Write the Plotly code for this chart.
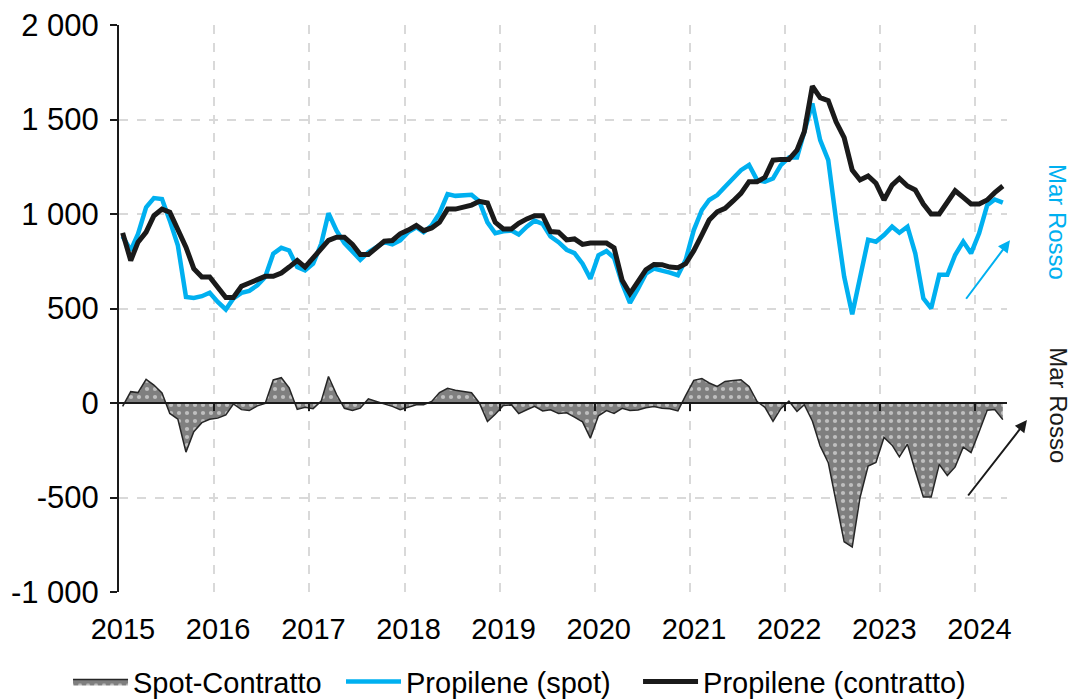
import pandas as pd
import plotly.graph_objects as go

# ---- data (monthly, Jan 2015 - Apr 2024) ----
start_month = "2015-01-01"

spot = [882, 807, 895, 1035, 1084, 1079, 965, 833, 561, 556, 565, 583,
        535, 495, 553, 583, 593, 623, 667, 790, 821, 807, 719, 702,
        737, 842, 1004, 912, 846, 798, 758, 798, 828, 851, 839, 860,
        904, 930, 904, 939, 1004, 1105, 1096, 1098, 1102, 1067, 956, 898,
        909, 912, 891, 933, 965, 947, 881, 851, 811, 793, 737, 658,
        781, 804, 768, 632, 530, 605, 684, 711, 702, 690, 676, 758,
        915, 1021, 1074, 1100, 1144, 1188, 1232, 1259, 1179, 1171, 1188, 1259,
        1299, 1299, 1426, 1585, 1391, 1285, 968, 669, 470, 669, 864, 853,
        889, 933, 901, 933, 792, 554, 501, 678, 678, 783, 854, 792,
        898, 1047, 1077, 1060]

contract = [900, 754, 851, 904, 991, 1026, 1009, 921, 825, 711, 667, 667,
            614, 558, 558, 618, 635, 654, 670, 670, 688, 719, 754, 719,
            768, 816, 860, 877, 877, 839, 786, 786, 825, 856, 860, 895,
            915, 939, 912, 926, 956, 1026, 1026, 1035, 1047, 1067, 1058, 956,
            921, 921, 951, 974, 991, 991, 907, 904, 863, 868, 839, 846,
            846, 846, 821, 649, 579, 640, 705, 733, 732, 719, 716, 737,
            806, 889, 968, 1012, 1030, 1069, 1109, 1171, 1171, 1194, 1285, 1289,
            1289, 1338, 1435, 1676, 1616, 1600, 1488, 1404, 1232, 1180, 1201, 1163,
            1074, 1153, 1188, 1148, 1127, 1053, 1000, 1000, 1060, 1123, 1088, 1053,
            1053, 1074, 1113, 1148]

spread = [-18, 60, 55, 125, 95, 53, -55, -86, -260, -152, -104, -86,
          -80, -63, -5, -35, -40, -15, -2, 122, 134, 80, -34, -22,
          -30, 10, 140, 45, -28, -40, -27, 22, 8, -3, -18, -35,
          -20, -9, -9, 8, 55, 78, 68, 62, 54, 0, -98, -60,
          -13, -10, -56, -36, -18, -42, -36, -55, -52, -75, -100, -186,
          -68, -40, -55, -28, -40, -37, -25, -18, -28, -30, -42, 40,
          120, 130, 106, 88, 114, 119, 123, 88, 8, -23, -97, -30,
          10, -45, -9, -95, -228, -316, -515, -734, -762, -500, -334, -315,
          -182, -223, -285, -218, -360, -498, -498, -325, -384, -338, -234, -262,
          -152, -38, -34, -88]

years = [str(y) for y in range(2015, 2025)]
y_ticks = [-1000, -500, 0, 500, 1000, 1500, 2000]
y_ticktext = ["-1 000", "-500", "0", "500", "1 000", "1 500", "2 000"]

names = ["Spot-Contratto", "Propilene (spot)", "Propilene (contratto)"]
annot_text = "Mar Rosso"

# ---- derived positions ----
months = pd.date_range(start_month, periods=len(spot), freq="MS")
x = months + pd.Timedelta(days=14)  # centre of each monthly slot
x_range = [months[0], months[-1] + pd.offsets.MonthBegin(1)]
year_starts = [pd.Timestamp(f"{y}-01-01") for y in years[1:]]
label_pos = [pd.Timestamp(f"{y}-01-16") for y in years]

BLUE = "#00B0F0"
BLACK = "#1a1a1a"
FONT = "Liberation Sans, Arial, sans-serif"
GRID = "#d9d9d9"
FS = 29

fig = go.Figure()
fig.add_trace(go.Scatter(
    x=x, y=spread, name=names[0], xaxis="x2", yaxis="y", legend="legend",
    mode="lines", fill="tozeroy",
    line=dict(color="#262626", width=1.5),
    fillcolor="#7f7f7f",
    fillpattern=dict(shape=".", bgcolor="#7f7f7f", fgcolor="white",
                     size=8, solidity=0.22),
))
fig.add_trace(go.Scatter(
    x=x, y=spot, name=names[1], mode="lines", legend="legend2",
    line=dict(color=BLUE, width=4.5),
))
fig.add_trace(go.Scatter(
    x=x, y=contract, name=names[2], mode="lines", legend="legend3",
    line=dict(color=BLACK, width=5),
))

legend_common = dict(orientation="h", xanchor="left", y=-0.158,
                     yanchor="middle", font=dict(size=FS), itemwidth=55,
                     bgcolor="rgba(0,0,0,0)")

fig.update_layout(
    width=1072, height=699,
    margin=dict(l=119, r=65, t=25, b=107, autoexpand=False),
    paper_bgcolor="white", plot_bgcolor="white",
    font=dict(family=FONT, size=FS, color="black"),
    showlegend=True,
    legend=dict(x=-0.0574, **legend_common),
    legend2=dict(x=0.25, **legend_common),
    legend3=dict(x=0.5845, **legend_common),
    xaxis=dict(type="date", range=x_range, showgrid=False, showline=False,
               zeroline=False, tickmode="array", tickvals=label_pos,
               ticktext=years, ticks="", ticklabelstandoff=17,
               tickfont=dict(size=FS), automargin=False),
    xaxis2=dict(type="date", overlaying="x", anchor="free", position=1/3,
                range=x_range, showline=True, linecolor=BLACK, linewidth=2,
                ticks="outside", ticklen=7, tickwidth=1.5, tickcolor=BLACK,
                tickmode="array", tickvals=year_starts, showticklabels=False,
                showgrid=True, gridcolor=GRID, gridwidth=1.5, griddash="dash",
                zeroline=False, automargin=False),
    yaxis=dict(range=[-1000, 2000], tickmode="array", tickvals=y_ticks,
               ticktext=y_ticktext, showgrid=True, gridcolor=GRID,
               gridwidth=1.5, griddash="dash", zeroline=False,
               showline=True, linecolor=BLACK, linewidth=2,
               ticks="outside", ticklen=7, tickwidth=1.5, tickcolor=BLACK,
               ticklabelstandoff=5, tickfont=dict(size=31), automargin=False),
)

# "Mar Rosso" labels and arrows
fig.add_annotation(text=annot_text, xref="paper", yref="y", x=1.057, y=960,
                   xanchor="center", yanchor="middle",
                   showarrow=False, textangle=90,
                   font=dict(color=BLUE, size=24, family=FONT))
fig.add_annotation(text=annot_text, xref="paper", yref="y", x=1.057, y=-10,
                   xanchor="center", yanchor="middle",
                   showarrow=False, textangle=90,
                   font=dict(color=BLACK, size=24, family=FONT))
fig.add_annotation(text="", xref="paper", yref="y", x=1.0034, y=861,
                   showarrow=True, axref="pixel", ayref="pixel", ax=-45, ay=60,
                   arrowhead=2, arrowsize=1.2, arrowwidth=2, arrowcolor=BLUE)
fig.add_annotation(text="", xref="paper", yref="y", x=1.0225, y=-90,
                   showarrow=True, axref="pixel", ayref="pixel", ax=-60, ay=77,
                   arrowhead=2, arrowsize=1.2, arrowwidth=2, arrowcolor=BLACK)

fig.write_html("out.html", config={"displayModeBar": False})

# remove the default 8px page margin so the figure fills the window exactly
with open("out.html", encoding="utf-8") as f:
    html = f.read()
html = html.replace("<head>", "<head><style>html,body{margin:0;padding:0;overflow:hidden;}</style>", 1)
with open("out.html", "w", encoding="utf-8") as f:
    f.write(html)
